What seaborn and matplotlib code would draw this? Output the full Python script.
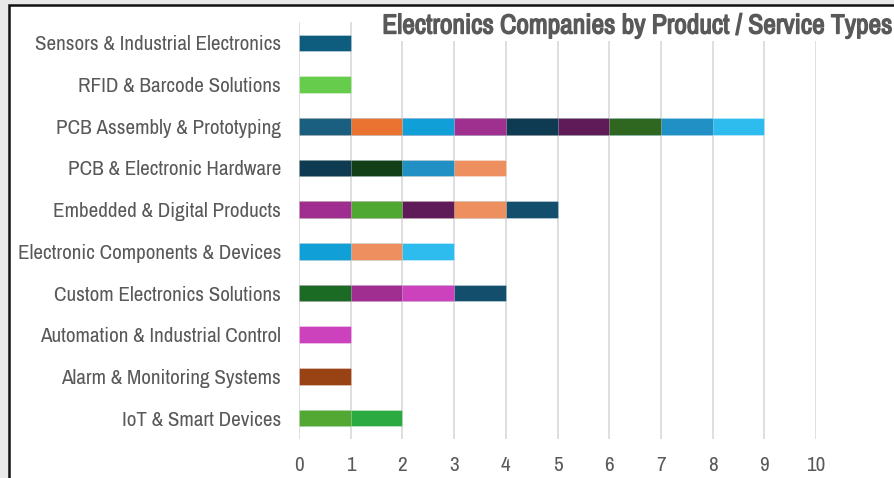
import matplotlib
matplotlib.use("Agg")
import matplotlib.pyplot as plt
from matplotlib import font_manager
import matplotlib.patheffects as pe
import seaborn as sns
import pandas as pd
from matplotlib.patches import Rectangle

categories = [
    "Sensors & Industrial Electronics",
    "RFID & Barcode Solutions",
    "PCB Assembly & Prototyping",
    "PCB & Electronic Hardware",
    "Embedded & Digital Products",
    "Electronic Components & Devices",
    "Custom Electronics Solutions",
    "Automation & Industrial Control",
    "Alarm & Monitoring Systems",
    "IoT & Smart Devices",
]

# each segment = one company (value 1)
segment_values = [
    [1],
    [1],
    [1, 1, 1, 1, 1, 1, 1, 1, 1],
    [1, 1, 1, 1],
    [1, 1, 1, 1, 1],
    [1, 1, 1],
    [1, 1, 1, 1],
    [1],
    [1],
    [1, 1],
]

segment_colors = [
    ["#0e5c7e"],
    ["#66cc4c"],
    ["#1a5e80", "#eb7332", "#119fd8", "#a0308f", "#0f3b52", "#5e1b57", "#2f6620", "#2190c4", "#2ebbee"],
    ["#0f3b52", "#133f18", "#2190c4", "#ed8f5e"],
    ["#a02d90", "#4fa832", "#5e1b57", "#ed8f5e", "#134e6c"],
    ["#119fd8", "#ed8f5e", "#2ebbee"],
    ["#1b6b25", "#a02d90", "#cc41bc", "#134e6c"],
    ["#cc41bc"],
    ["#994314"],
    ["#52a832", "#2aaa40"],
]

x_ticks = list(range(0, 11))
title = "Electronics Companies by Product / Service Types"

sns.set_theme(style="white")

# pick a narrow / condensed sans if present
names = sorted({f.name for f in font_manager.fontManager.ttflist})
narrow = [n for n in names if ("Narrow" in n or "Condensed" in n) and "Mono" not in n and "Serif" not in n]
stretch = "normal"
if narrow:
    fam = [narrow[0], "DejaVu Sans"]
else:
    fam = ["DejaVu Sans"]
    stretch = "condensed"
plt.rcParams["font.family"] = fam
plt.rcParams["font.stretch"] = stretch

fig = plt.figure(figsize=(8.94, 4.78), dpi=100, facecolor="#e9e9e9")
card = Rectangle((9 / 894, -0.05), 1.2, 1 - 5 / 478 + 0.05, transform=fig.transFigure,
                 facecolor="white", edgecolor="#111111", linewidth=1.8, zorder=-10)
fig.patches.append(card)

ax = fig.add_axes([299 / 894, 1 - 439 / 478, (816 - 299) / 894, (439 - 22) / 478])
ax.set_facecolor("none")
ax.set_zorder(1)

n_layers = max(len(v) for v in segment_values)
for j in range(n_layers - 1, -1, -1):
    rows = []
    pal = {}
    for cat, vals, cols in zip(categories, segment_values, segment_colors):
        if len(vals) > j:
            rows.append({"category": cat, "cum": sum(vals[: j + 1])})
            pal[cat] = cols[j]
    df = pd.DataFrame(rows)
    sns.barplot(data=df, x="cum", y="category", hue="category", palette=pal,
                order=categories, hue_order=list(pal.keys()), orient="h",
                width=0.4, errorbar=None, legend=False, ax=ax,
                saturation=1, linewidth=0.6, edgecolor=(1, 1, 1, 0.35), zorder=3)

ax.set_xlim(0, 10)
ax.set_ylim(len(categories) - 0.5, -0.5)
ax.set_xticks(x_ticks)
ax.set_xticklabels([str(t) for t in x_ticks])
ax.grid(axis="x", color="#d9d9d9", linewidth=1.2, zorder=0)
ax.set_axisbelow(True)
for s in ax.spines.values():
    s.set_visible(False)
ax.set_xlabel("")
ax.set_ylabel("")
ax.tick_params(axis="both", length=0, labelsize=15.2, colors="#595959")
ax.tick_params(axis="y", pad=13)
ax.tick_params(axis="x", pad=12)

fig.text(892 / 894, 1 - 26 / 478, title, ha="right", va="center", fontsize=19.8,
         fontweight="bold", color="#595959",
         path_effects=[pe.withStroke(linewidth=1.0, foreground="#595959")],
         bbox=dict(facecolor="white", edgecolor="none", pad=1.5), zorder=5)

fig.savefig("out.png", dpi=100, facecolor=fig.get_facecolor())
